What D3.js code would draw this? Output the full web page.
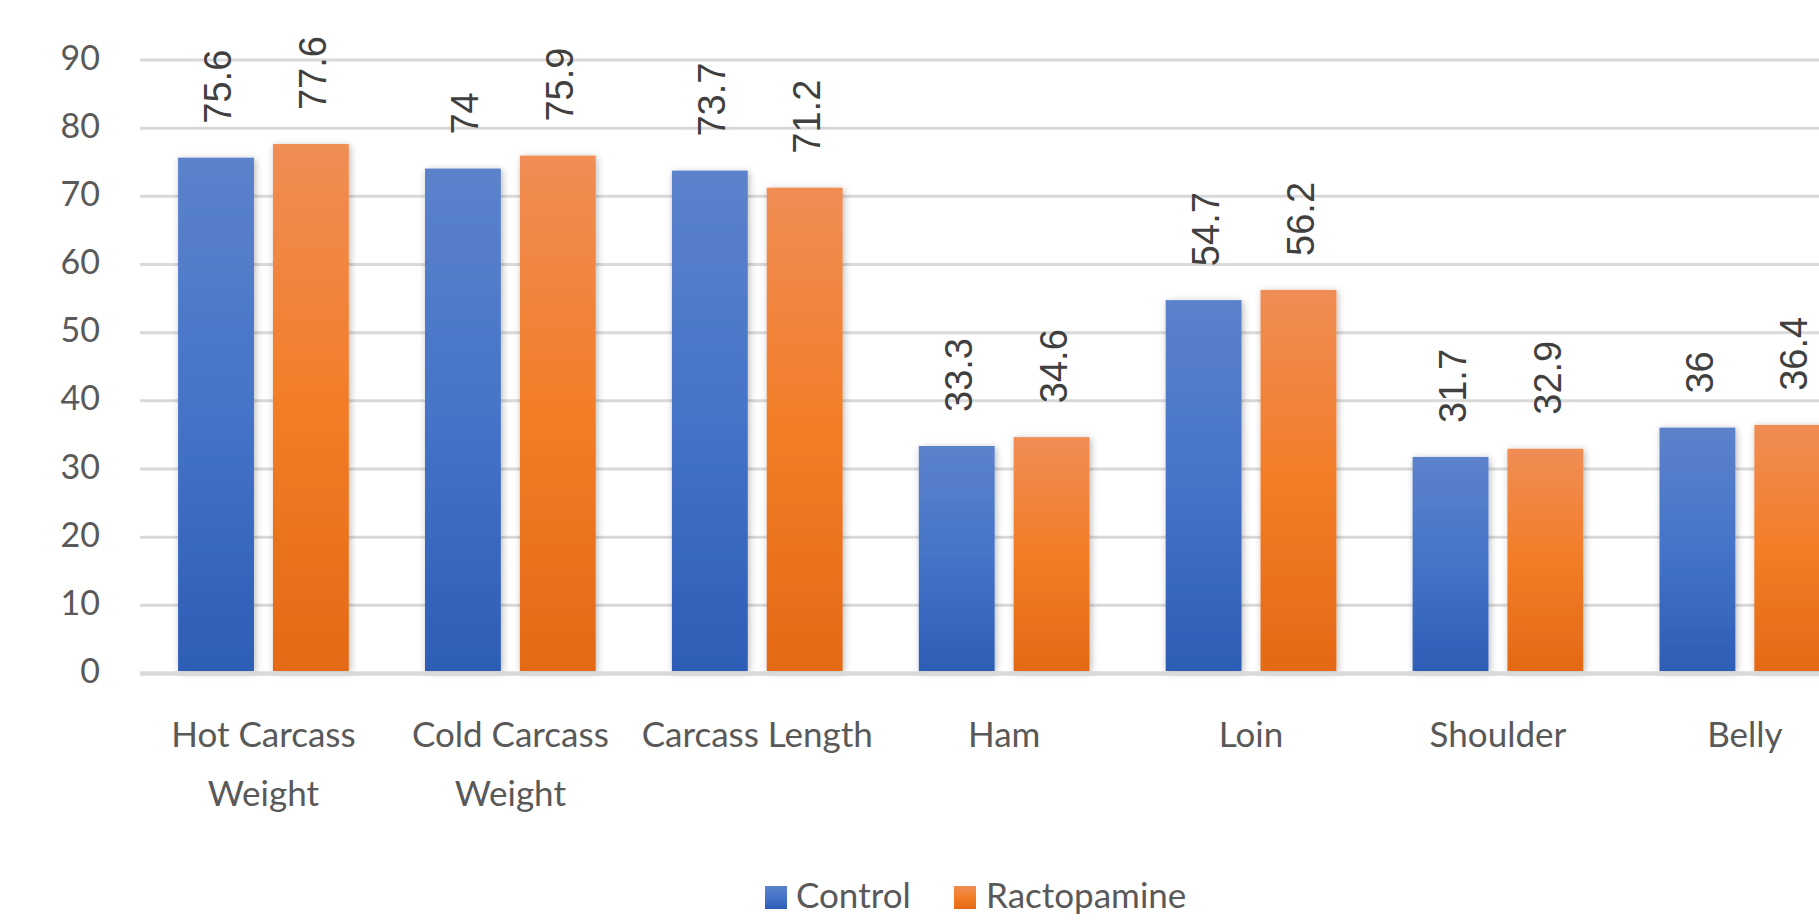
<!DOCTYPE html>
<html>
<head>
<meta charset="utf-8">
<script src="https://cdn.jsdelivr.net/npm/d3@7"></script>
<style>
  html, body { margin: 0; padding: 0; background: #ffffff; overflow: hidden; }
  svg { display: block; }
</style>
</head>
<body>
<svg id="chart" width="1819" height="921"></svg>
<script>
// Carcass traits: control vs. ractopamine-fed groups
const categories = [
  ["Hot Carcass", "Weight"],
  ["Cold Carcass", "Weight"],
  ["Carcass Length"],
  ["Ham"],
  ["Loin"],
  ["Shoulder"],
  ["Belly"]
];
const seriesNames = ["Control", "Ractopamine"];
const controlValues = [75.6, 74, 73.7, 33.3, 54.7, 31.7, 36];
const ractopamineValues = [77.6, 75.9, 71.2, 34.6, 56.2, 32.9, 36.4];
const yTicks = [0, 10, 20, 30, 40, 50, 60, 70, 80, 90];

const seriesValues = [controlValues, ractopamineValues];
const rows = categories.map((c, i) => ({
  key: c.join(" "),
  lines: c,
  values: seriesNames.map((s, j) => ({ series: s, value: seriesValues[j][i] }))
}));

const svg = d3.select("#chart");
const W = 1819, H = 921;
svg.append("rect").attr("width", W).attr("height", H).attr("fill", "#ffffff");

const plotLeft = 140, step = 246.9;
const plotRight = plotLeft + step * categories.length;

const x0 = d3.scaleBand()
  .domain(rows.map(r => r.key))
  .range([plotLeft, plotRight])
  .padding(0);
const x1 = d3.scaleBand()
  .domain(seriesNames)
  .range([0, x0.bandwidth()])
  .paddingInner(0.2)
  .paddingOuter(0.4016);
const y = d3.scaleLinear().domain([0, 90]).range([673, 59.5]);

const defs = svg.append("defs");
const grads = {
  Control: ["#5c82cb", "#4573c8", "#2e5db6"],
  Ractopamine: ["#f08d55", "#f27d27", "#e46916"]
};
Object.entries(grads).forEach(([name, stops]) => {
  const g = defs.append("linearGradient")
    .attr("id", "grad-" + name).attr("x1", 0).attr("y1", 0).attr("x2", 0).attr("y2", 1);
  g.append("stop").attr("offset", "0%").attr("stop-color", stops[0]);
  g.append("stop").attr("offset", "50%").attr("stop-color", stops[1]);
  g.append("stop").attr("offset", "100%").attr("stop-color", stops[2]);
});
const shadow = defs.append("filter").attr("id", "barShadow")
  .attr("x", "-20%").attr("y", "-10%").attr("width", "140%").attr("height", "120%");
shadow.append("feDropShadow")
  .attr("dx", 1.5).attr("dy", 1.5).attr("stdDeviation", 3.5)
  .attr("flood-color", "#000").attr("flood-opacity", 0.28);

// Horizontal gridlines
const yAxis = d3.axisLeft(y).tickValues(yTicks).tickSize(-(plotRight - plotLeft)).tickPadding(40);
const gy = svg.append("g").attr("transform", `translate(${plotLeft},0)`).call(yAxis);
gy.select(".domain").remove();
gy.selectAll(".tick line")
  .attr("stroke", "#d9d9d9")
  .attr("stroke-width", d => d === 0 ? 4 : 3);
gy.selectAll(".tick text")
  .attr("fill", "#595959")
  .attr("font-family", "Lato, 'Open Sans', sans-serif")
  .attr("font-size", 34)
  .attr("dy", "0.28em");
gy.selectAll(".tick").filter(d => d === 0).raise();

// Bars
const groups = svg.append("g").selectAll("g")
  .data(rows).join("g")
  .attr("transform", d => `translate(${x0(d.key)},0)`);

groups.selectAll("rect")
  .data(d => d.values).join("rect")
  .attr("x", d => x1(d.series))
  .attr("width", x1.bandwidth())
  .attr("y", d => y(d.value))
  .attr("height", d => y(0) - y(d.value) - 2)
  .attr("fill", d => `url(#grad-${d.series})`)
  .attr("filter", "url(#barShadow)");

// Rotated value labels above each bar
groups.selectAll("text.val")
  .data(d => d.values).join("text")
  .attr("class", "val")
  .attr("transform", d => `translate(${x1(d.series) + x1.bandwidth() / 2 + 1.5},${y(d.value) - 34}) rotate(-90)`)
  .attr("text-anchor", "start")
  .attr("dy", "0.36em")
  .attr("fill", "#404040")
  .attr("font-family", "'Liberation Sans', Arial, sans-serif")
  .attr("font-size", 38)
  .text(d => d3.format("")(d.value));

// baseline drawn over the bars
svg.append("line")
  .attr("x1", plotLeft).attr("x2", plotRight)
  .attr("y1", y(0) + 0.5).attr("y2", y(0) + 0.5)
  .attr("stroke", "#d9d9d9").attr("stroke-width", 4);

// Category labels (wrapped onto two lines where needed)
const catLabels = svg.append("g").selectAll("text")
  .data(rows).join("text")
  .attr("x", d => x0(d.key) + x0.bandwidth() / 2)
  .attr("y", 747)
  .attr("text-anchor", "middle")
  .attr("fill", "#595959")
  .attr("font-family", "Lato, 'Open Sans', sans-serif")
  .attr("font-size", 35);
catLabels.selectAll("tspan")
  .data(d => d.lines).join("tspan")
  .attr("x", function () { return d3.select(this.parentNode).attr("x"); })
  .attr("dy", (d, i) => i === 0 ? 0 : 59)
  .text(d => d);

// Legend
const legend = svg.append("g").attr("font-family", "Lato, 'Open Sans', sans-serif").attr("font-size", 35);
const legendItems = [
  { name: seriesNames[0], sx: 765, tx: 796 },
  { name: seriesNames[1], sx: 954, tx: 986 }
];
legendItems.forEach(item => {
  legend.append("rect")
    .attr("x", item.sx).attr("y", 886).attr("width", 22).attr("height", 23)
    .attr("fill", `url(#grad-${item.name})`);
  legend.append("text")
    .attr("x", item.tx).attr("y", 908)
    .attr("fill", "#595959")
    .text(item.name);
});
</script>
</body>
</html>
